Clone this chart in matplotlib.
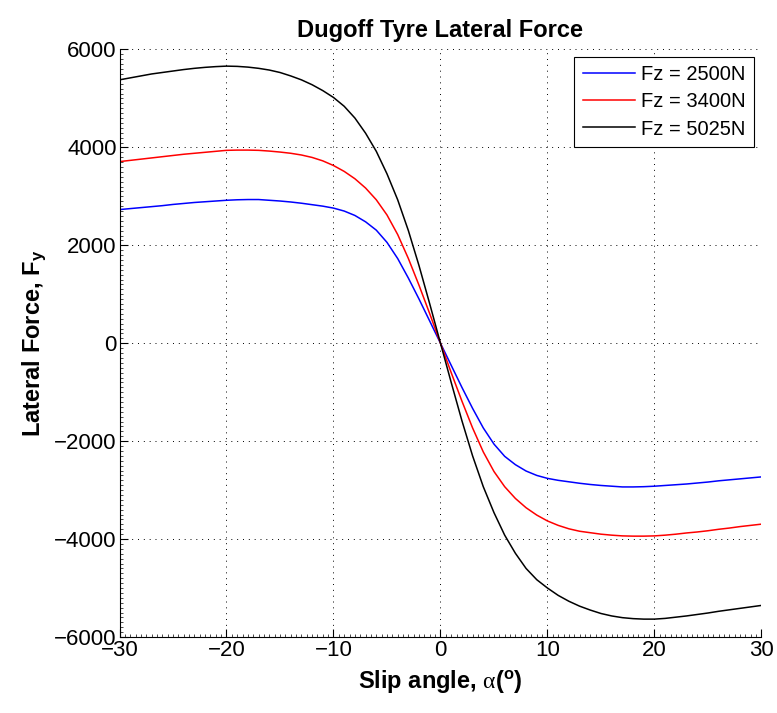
"""
Dugoff tyre lateral force vs slip angle, three normal loads.
"""

import matplotlib.pyplot as plt
from matplotlib.ticker import MultipleLocator

plt.rcParams['font.family'] = ['Liberation Sans', 'DejaVu Sans']
plt.rcParams['mathtext.fontset'] = 'custom'
plt.rcParams['mathtext.rm'] = 'Liberation Sans'
plt.rcParams['mathtext.bf'] = 'Liberation Sans:bold'
plt.rcParams['mathtext.it'] = 'Liberation Serif'

# slip angle in degrees
slip_angle = list(range(-30, 31))

# lateral force (N)
fy_2500 = [2730, 2750, 2770, 2790, 2810, 2835, 2855, 2875, 2890, 2905,
           2920, 2930, 2935, 2935, 2920, 2905, 2885, 2860, 2830, 2800,
           2760, 2700, 2610, 2480, 2310, 2060, 1730, 1330, 900, 450,
           0,
           -450, -900, -1330, -1730, -2060, -2310, -2480, -2610, -2700,
           -2760, -2800, -2830, -2860, -2885, -2905, -2920, -2935, -2935,
           -2930, -2920, -2905, -2890, -2875, -2855, -2835, -2810, -2790,
           -2770, -2750, -2730]

fy_3400 = [3710, 3735, 3760, 3785, 3810, 3835, 3860, 3880, 3900, 3920,
           3940, 3945, 3945, 3940, 3925, 3905, 3880, 3845, 3795, 3725,
           3630, 3510, 3360, 3170, 2930, 2620, 2220, 1730, 1180, 600,
           0,
           -600, -1180, -1730, -2220, -2620, -2930, -3170, -3360, -3510,
           -3630, -3720, -3790, -3840, -3870, -3900, -3920, -3935, -3940,
           -3940, -3935, -3920, -3900, -3875, -3855, -3830, -3800, -3775,
           -3745, -3720, -3695]

fy_5025 = [5380, 5420, 5460, 5500, 5530, 5560, 5590, 5615, 5635, 5650,
           5660, 5655, 5640, 5615, 5580, 5530, 5460, 5380, 5280, 5160,
           5020, 4840, 4600, 4290, 3920, 3460, 2930, 2300, 1580, 800,
           0,
           -800, -1580, -2300, -2930, -3460, -3920, -4290, -4600, -4830,
           -5000, -5150, -5270, -5370, -5450, -5520, -5570, -5605, -5625,
           -5635, -5635, -5620, -5595, -5570, -5540, -5510, -5475, -5445,
           -5415, -5385, -5355]

labels = ['Fz = 2500N', 'Fz = 3400N', 'Fz = 5025N']
colors = ['#0000ff', '#ff0000', '#000000']

fig = plt.figure(figsize=(7.77, 7.13), dpi=100)
ax = fig.add_axes([0.1538, 0.1066, 0.8262, 0.8240])

for fy, lab, col in zip([fy_2500, fy_3400, fy_5025], labels, colors):
    ax.plot(slip_angle, fy, color=col, linewidth=1.1, label=lab)

ax.set_xlim(-30, 30)
ax.set_ylim(-6000, 6000)
ax.set_xticks(range(-30, 31, 10))
ax.set_yticks(range(-6000, 6001, 2000))
ax.xaxis.set_minor_locator(MultipleLocator(0.5))
ax.yaxis.set_minor_locator(MultipleLocator(100))
ax.set_xticklabels(['\u221230', '\u221220', '\u221210', '0', '10', '20', '30'])
ax.set_yticklabels(['\u22126000', '\u22124000', '\u22122000', '0', '2000', '4000', '6000'])

ax.tick_params(which='major', direction='in', length=6, width=0.8, labelsize=16, pad=2)
ax.tick_params(which='minor', direction='in', length=2.5, width=0.5)
ax.spines['top'].set_visible(False)
ax.spines['right'].set_visible(False)
ax.grid(True, which='major', color='k', linestyle=(0, (1, 5)), linewidth=0.7)

ax.set_title('Dugoff Tyre Lateral Force', fontsize=17, fontweight='bold', pad=9)
ax.set_xlabel(r'Slip angle, $\mathit{\alpha}$($\mathbf{^o}$)', fontsize=17,
              fontweight='bold', labelpad=6)
ax.set_ylabel(r'Lateral Force, $\mathbf{F_y}$', fontsize=17, fontweight='bold',
              labelpad=4)

leg = ax.legend(loc='upper right', fontsize=14.5, fancybox=False, framealpha=1,
                edgecolor='k', handlelength=2.6, borderaxespad=0.37,
                labelspacing=0.4, borderpad=0.42, handletextpad=0.3)
leg.get_frame().set_linewidth(0.8)

fig.savefig('out.png', dpi=100)
